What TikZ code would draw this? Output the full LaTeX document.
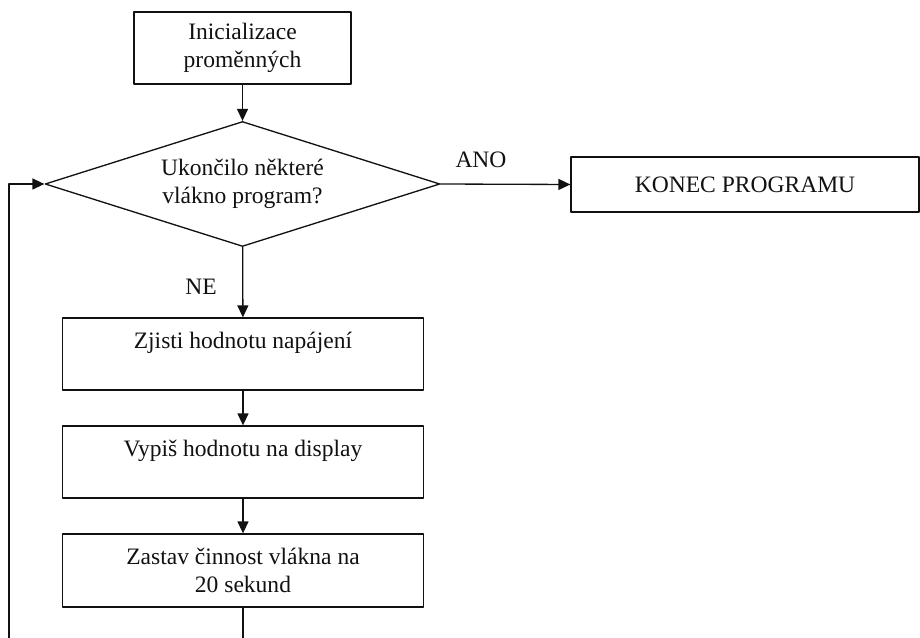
\documentclass[tikz,border=0pt]{standalone}
\usepackage{fontspec}
\setmainfont{Liberation Serif}
\usetikzlibrary{arrows.meta, shapes.geometric, positioning}
\definecolor{ink}{HTML}{111111}
\tikzset{fl/.style={line cap=round, line join=round, draw=ink, line width=0.75pt},
  blok/.style={fl, rectangle, align=center, inner sep=0pt, text=ink},
  dotaz/.style={fl, diamond, aspect=3.16, align=center, inner sep=0pt, text=ink, minimum width=7.9cm, minimum height=2.5cm},
  sip/.style={fl, -{Triangle[length=2.4mm, width=2.2mm]}}}

\begin{document}
\begin{tikzpicture}[x=0.02cm, y=-0.02cm, font=\fontsize{13.4pt}{16pt}\selectfont]
  \useasboundingbox (0,0) rectangle (920,638);
  \node[blok, minimum width=4.34cm, minimum height=1.44cm] (init) at (242.5,48) {Inicializace\\proměnných};
  \node[dotaz] (dotaz) at (242.5,184) {Ukončilo některé\\vlákno program?};
  \node[blok, minimum width=6.96cm, minimum height=1.1cm] (konec) at (745,184.5) {KONEC PROGRAMU};
  \node[blok, minimum width=7.22cm, minimum height=1.44cm] (zjisti) at (243,354) {Zjisti hodnotu napájení\\~};
  \node[blok, minimum width=7.22cm, minimum height=1.44cm] (vypis) at (243,462) {Vypiš hodnotu na display\\~};
  \node[blok, minimum width=7.22cm, minimum height=1.46cm] (zastav) at (243,570.5) {Zastav činnost vlákna na\\20 sekund};
  \node[text=ink] (ano) at (481,160) {ANO};
  \node[text=ink] (ne) at (201,287) {NE};
  \coordinate (dole) at (243,638);
  \coordinate (roh) at (9,638);
  \draw[sip] (init) -- (dotaz);
  \draw[sip] (dotaz.east) -- (konec.west);
  \draw[sip] (dotaz) -- (zjisti);
  \draw[sip] (zjisti) -- (vypis);
  \draw[sip] (vypis) -- (zastav);
  \draw[fl] (zastav) -- (dole);
  \draw[sip] (roh) |- (dotaz.west);
\end{tikzpicture}
\end{document}
